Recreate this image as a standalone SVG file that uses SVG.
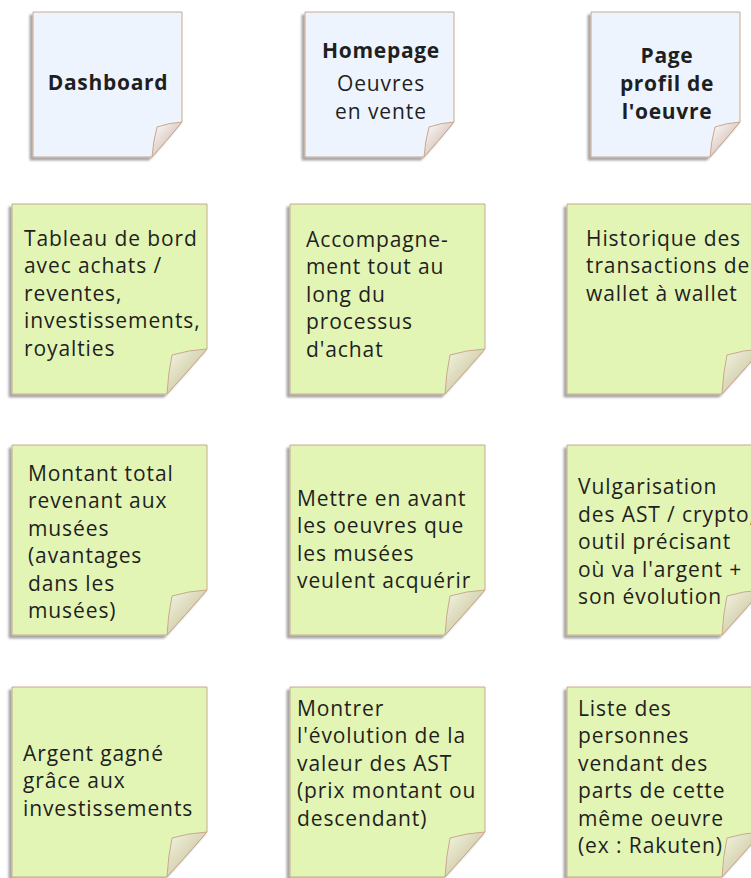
<svg xmlns="http://www.w3.org/2000/svg" xmlns:xlink="http://www.w3.org/1999/xlink" width="751" height="878" viewBox="0 0 751 878">
<style>
.body-g{fill:#e3f5b4;stroke:#c9a88f;stroke-width:1}
.body-h{fill:#edf4fe;stroke:#c9a88f;stroke-width:1}
.flap-g{fill:url(#gradG);stroke:#c9a88f;stroke-width:1}
.flap-h{fill:url(#gradH);stroke:#c9a88f;stroke-width:1}
.t{font-family:"Open Sans","Liberation Sans",sans-serif;font-size:21px;fill:#1f1f1f;letter-spacing:0.9px}
.b{font-weight:bold;letter-spacing:0.7px}
.c{text-anchor:middle}
</style>
<defs>
<filter id="sh" x="-10%" y="-10%" width="120%" height="120%">
<feDropShadow dx="-3" dy="3" stdDeviation="1.3" flood-color="#000" flood-opacity="0.35"/>
</filter>
<linearGradient id="gradG" x1="0" y1="0" x2="1" y2="1">
<stop offset="0" stop-color="#f4f8e6"/>
<stop offset="1" stop-color="#bfb386"/>
</linearGradient>
<linearGradient id="gradH" x1="0" y1="0" x2="1" y2="1">
<stop offset="0" stop-color="#ffffff"/>
<stop offset="1" stop-color="#c4a598"/>
</linearGradient>
<path id="gBody" d="M0,0 H195 V145 Q176,167 155,190 H0 Z"/>
<path id="gFlap" d="M195,145 Q176,146 160,151 Q156,170 155,190 Q176,167 195,145 Z"/>
<path id="hBody" d="M0,0 H149 V110 Q135,127 119,145 H0 Z"/>
<path id="hFlap" d="M149,110 Q135,111 124,115 Q120,130 119,145 Q135,127 149,110 Z"/>
</defs>

<g id="dashboard" transform="translate(33,12)">
<use href="#hBody" class="body-h" filter="url(#sh)"/>
<use href="#hFlap" class="flap-h"/>
</g>
<g id="homepage" transform="translate(305,12)">
<use href="#hBody" class="body-h" filter="url(#sh)"/>
<use href="#hFlap" class="flap-h"/>
</g>
<g id="page-profil" transform="translate(591,12)">
<use href="#hBody" class="body-h" filter="url(#sh)"/>
<use href="#hFlap" class="flap-h"/>
</g>
<g class="t">
<text class="b c" x="108" y="90">Dashboard</text>
<text class="b c" x="381" y="58">Homepage</text>
<text class="c" x="381" y="91">Oeuvres</text>
<text class="c" x="381" y="119">en vente</text>
<text class="b c" x="667" y="63">Page</text>
<text class="b c" x="667" y="91">profil de</text>
<text class="b c" x="667" y="119">l'oeuvre</text>
</g>

<g id="tableau-de-bord" transform="translate(12,204)">
<use href="#gBody" class="body-g" filter="url(#sh)"/>
<use href="#gFlap" class="flap-g"/>
<text class="t" x="12" y="42">Tableau de bord</text>
<text class="t" x="12" y="69">avec achats /</text>
<text class="t" x="12" y="97">reventes,</text>
<text class="t" x="12" y="124">investissements,</text>
<text class="t" x="12" y="152">royalties</text>
</g>
<g id="accompagnement" transform="translate(290,204)">
<use href="#gBody" class="body-g" filter="url(#sh)"/>
<use href="#gFlap" class="flap-g"/>
<text class="t" x="16" y="43">Accompagne-</text>
<text class="t" x="16" y="70">ment tout au</text>
<text class="t" x="16" y="98">long du</text>
<text class="t" x="16" y="125">processus</text>
<text class="t" x="16" y="153">d'achat</text>
</g>
<g id="historique" transform="translate(567,204)">
<use href="#gBody" class="body-g" filter="url(#sh)"/>
<use href="#gFlap" class="flap-g"/>
<text class="t" x="19" y="42">Historique des</text>
<text class="t" x="19" y="69">transactions de</text>
<text class="t" x="19" y="97">wallet à wallet</text>
</g>

<g id="montant-total" transform="translate(12,445)">
<use href="#gBody" class="body-g" filter="url(#sh)"/>
<use href="#gFlap" class="flap-g"/>
<text class="t" x="16" y="36">Montant total</text>
<text class="t" x="16" y="63">revenant aux</text>
<text class="t" x="16" y="91">musées</text>
<text class="t" x="16" y="118">(avantages</text>
<text class="t" x="16" y="146">dans les</text>
<text class="t" x="16" y="173">musées)</text>
</g>
<g id="mettre-en-avant" transform="translate(290,445)">
<use href="#gBody" class="body-g" filter="url(#sh)"/>
<use href="#gFlap" class="flap-g"/>
<text class="t" x="7" y="61">Mettre en avant</text>
<text class="t" x="7" y="88">les oeuvres que</text>
<text class="t" x="7" y="116">les musées</text>
<text class="t" x="7" y="143">veulent acquérir</text>
</g>
<g id="vulgarisation" transform="translate(567,445)">
<use href="#gBody" class="body-g" filter="url(#sh)"/>
<use href="#gFlap" class="flap-g"/>
<text class="t" x="11" y="49">Vulgarisation</text>
<text class="t" x="11" y="77">des AST / crypto,</text>
<text class="t" x="11" y="104">outil précisant</text>
<text class="t" x="11" y="132">où va l'argent +</text>
<text class="t" x="11" y="159">son évolution</text>
</g>

<g id="argent-gagne" transform="translate(12,687)">
<use href="#gBody" class="body-g" filter="url(#sh)"/>
<use href="#gFlap" class="flap-g"/>
<text class="t" x="11" y="74">Argent gagné</text>
<text class="t" x="11" y="101">grâce aux</text>
<text class="t" x="11" y="129">investissements</text>
</g>
<g id="montrer-evolution" transform="translate(290,687)">
<use href="#gBody" class="body-g" filter="url(#sh)"/>
<use href="#gFlap" class="flap-g"/>
<text class="t" x="7" y="29">Montrer</text>
<text class="t" x="7" y="56">l'évolution de la</text>
<text class="t" x="7" y="84">valeur des AST</text>
<text class="t" x="7" y="111">(prix montant ou</text>
<text class="t" x="7" y="139">descendant)</text>
</g>
<g id="liste-personnes" transform="translate(567,687)">
<use href="#gBody" class="body-g" filter="url(#sh)"/>
<use href="#gFlap" class="flap-g"/>
<text class="t" x="11" y="29">Liste des</text>
<text class="t" x="11" y="56">personnes</text>
<text class="t" x="11" y="84">vendant des</text>
<text class="t" x="11" y="111">parts de cette</text>
<text class="t" x="11" y="139">même oeuvre</text>
<text class="t" x="11" y="166">(ex : Rakuten)</text>
</g>
<g id="connectors"/>
</svg>
